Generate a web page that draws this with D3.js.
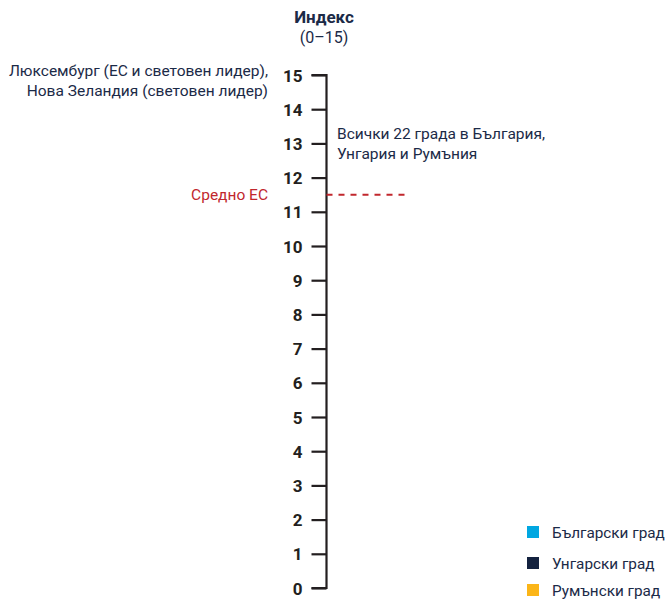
<!DOCTYPE html>
<html>
<head>
<meta charset="utf-8">
<script src="https://cdn.jsdelivr.net/npm/d3@7/dist/d3.min.js"></script>
<style>
  html, body { margin: 0; padding: 0; background: #fff; }
  svg { display: block; font-family: Roboto, "Noto Sans", sans-serif; }
</style>
</head>
<body>
<svg id="chart" width="668" height="599"></svg>
<script>
// Index scale and reference values
const tickValues = [0, 1, 2, 3, 4, 5, 6, 7, 8, 9, 10, 11, 12, 13, 14, 15];
const euAverage = 11.5;
const leaderValue = 15;
const groupValue = 13;

const titleLines = ["Индекс", "(0–15)"];
const leaderLines = ["Люксембург (ЕС и световен лидер),", "Нова Зеландия (световен лидер)"];
const groupLines = ["Всички 22 града в България,", "Унгария и Румъния"];
const euLabel = "Средно ЕС";

const legendLabels = ["Български град", "Унгарски град", "Румънски град"];
const legendColors = ["#00a7e1", "#14223f", "#fbb518"];

const svg = d3.select("#chart");
const axisX = 326.5;

const y = d3.scaleLinear().domain([0, 15]).range([588, 75]);

// Title
const title = svg.append("g").attr("text-anchor", "middle").attr("fill", "#1b2a47");
title.append("text").attr("x", 324).attr("y", 23).attr("font-size", 17).attr("font-weight", "bold").text(titleLines[0]);
title.append("text").attr("x", 324).attr("y", 43).attr("font-size", 16).text(titleLines[1]);

// Vertical axis
const axis = d3.axisLeft(y).tickValues(tickValues).tickSize(15).tickPadding(9).tickFormat(d3.format("d"));
const gAxis = svg.append("g").attr("transform", `translate(${axisX},0)`).call(axis);
gAxis.select(".domain").attr("d", `M-15,${y(15)}H0V${y(0)}H-15`).attr("stroke", "#231f20").attr("stroke-width", 2.2).attr("fill", "none");
gAxis.selectAll(".tick line").attr("stroke", "#231f20").attr("stroke-width", 2.2);
gAxis.selectAll(".tick text")
  .attr("font-size", 17).attr("font-weight", "bold").attr("fill", "#231f20")
  .attr("font-family", "Roboto, sans-serif")
  .attr("dy", "0.36em");

// EU average reference line
svg.append("line")
  .attr("x1", axisX).attr("x2", 410)
  .attr("y1", y(euAverage)).attr("y2", y(euAverage))
  .attr("stroke", "#c1272d").attr("stroke-width", 2).attr("stroke-dasharray", "6,6");

svg.append("text")
  .attr("x", 268).attr("y", y(euAverage)).attr("dy", "0.36em")
  .attr("text-anchor", "end").attr("font-size", 15.5).attr("fill", "#c1272d")
  .text(euLabel);

// Annotation for world leaders
const leader = svg.append("g").attr("text-anchor", "end").attr("fill", "#1b2a47").attr("font-size", 15.5);
leaderLines.forEach((t, i) => {
  leader.append("text").attr("x", 268).attr("y", y(leaderValue) + 0.5 + i * 20).text(t);
});

// Annotation for the 22 cities
const group = svg.append("g").attr("fill", "#1b2a47").attr("font-size", 15.5);
groupLines.forEach((t, i) => {
  group.append("text").attr("x", 337).attr("y", y(groupValue) - 4.5 + i * 20).text(t);
});

// Legend
const legendRowY = [0, 31, 58];
const legend = svg.append("g").attr("transform", "translate(527,526)");
legendLabels.forEach((label, i) => {
  const row = legend.append("g").attr("transform", `translate(0,${legendRowY[i]})`);
  row.append("rect").attr("width", 12).attr("height", 12).attr("fill", legendColors[i]);
  row.append("text").attr("x", 25).attr("y", 6).attr("dy", "0.36em")
    .attr("font-size", 15.3).attr("fill", "#1b2a47").text(label);
});
</script>
</body>
</html>
